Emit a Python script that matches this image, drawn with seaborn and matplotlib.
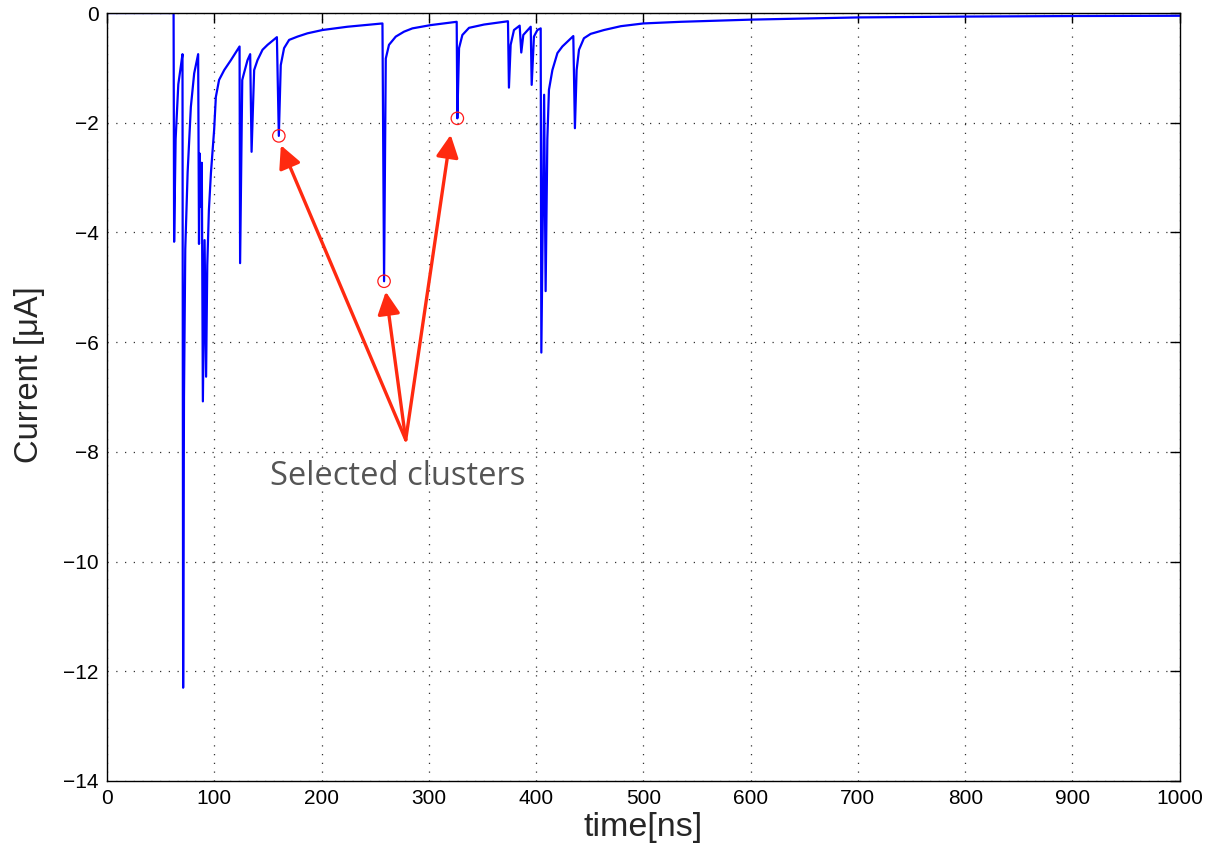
import matplotlib
matplotlib.use("Agg")
import matplotlib.pyplot as plt
import seaborn as sns
import pandas as pd

# Induced current on the sense wire (vertices of the sampled waveform)
time_ns = [
    0.0, 62.1, 62.6, 64.0, 66.5, 69.0, 70.4,
    71.0, 71.8, 73.0, 75.2, 78.2, 81.3, 85.0,
    85.8, 86.4, 87.4, 88.4, 89.4, 91.0, 92.4,
    93.5, 95.0, 96.9, 99.9, 101.5, 104.5, 109.3, 115.5, 123.6,
    124.1, 126.1, 127.7, 131.0, 133.5,
    134.8, 137.2, 140.3, 145.0, 149.7, 158.4,
    160.2, 162.0, 165.1, 169.8, 177.6, 186.9, 200.9, 224.2, 256.8,
    258.3, 259.9, 262.9, 269.2, 276.9, 284.7, 301.8, 326.0,
    326.6, 328.2, 331.3, 337.5, 351.5, 373.8,
    374.7, 376.3, 379.4, 384.7,
    386.2, 388.1, 395.0,
    395.9, 398.0, 401.2, 404.3,
    404.9, 407.5, 408.9, 410.5, 412.0, 415.2, 419.9, 424.5, 434.7,
    436.2, 437.8, 440.0, 444.6, 450.9, 463.3, 479.0, 500.0, 535.0,
    601.0, 701.0, 800.0, 900.0, 1000.0,
]
current_uA = [
    0.0, 0.0, -4.17, -2.3, -1.3, -0.95, -0.75,
    -12.3, -7.0, -4.3, -2.9, -1.71, -1.1, -0.75,
    -4.21, -2.56, -3.53, -2.73, -7.08, -4.14, -6.63,
    -4.6, -3.6, -2.92, -2.13, -1.53, -1.22, -1.04, -0.86, -0.61,
    -4.56, -1.22, -1.10, -0.86, -0.75,
    -2.53, -1.04, -0.86, -0.67, -0.58, -0.44,
    -2.24, -0.95, -0.64, -0.49, -0.43, -0.37, -0.31, -0.25, -0.19,
    -4.89, -0.83, -0.58, -0.43, -0.34, -0.28, -0.22, -0.16,
    -1.92, -0.64, -0.40, -0.27, -0.21, -0.15,
    -1.36, -0.58, -0.31, -0.23,
    -0.72, -0.40, -0.25,
    -1.31, -0.43, -0.31, -0.28,
    -6.19, -1.49, -5.07, -2.3, -1.4, -1.04, -0.73, -0.61, -0.42,
    -2.10, -1.04, -0.67, -0.46, -0.38, -0.31, -0.24, -0.19, -0.16,
    -0.12, -0.08, -0.065, -0.055, -0.05,
]

# Cluster peaks picked out for the annotation
selected_time = [160.2, 258.3, 326.6]
selected_current = [-2.24, -4.89, -1.92]

# Arrow tips (just below each circled peak) and common arrow origin
arrow_tip_time = [162.1, 259.9, 320.4]
arrow_tip_current = [-2.41, -5.08, -2.22]
arrow_origin = (278.5, -7.78)
label_text = "Selected clusters"
label_pos = (271.1, -8.45)

x_ticks = list(range(0, 1001, 100))
y_ticks = list(range(-14, 1, 2))

sns.set_theme(style="white")
plt.rcParams["font.family"] = ["Liberation Sans", "DejaVu Sans"]

fig = plt.figure(figsize=(12.10, 8.51), dpi=100)
ax = fig.add_axes([0.0884, 0.0823, 0.8866, 0.9024])

wave = pd.DataFrame({"time": time_ns, "current": current_uA})
sns.lineplot(data=wave, x="time", y="current", sort=False, estimator=None,
             color=(0, 0, 1), linewidth=1.6, ax=ax)

sel = pd.DataFrame({"time": selected_time, "current": selected_current})
sns.scatterplot(data=sel, x="time", y="current", marker="o", s=80,
                facecolor="none", edgecolor="#ff1a1a", linewidth=0.9,
                zorder=5, ax=ax)

for tx, ty in zip(arrow_tip_time, arrow_tip_current):
    ax.annotate("", xy=(tx, ty), xytext=arrow_origin,
                arrowprops=dict(arrowstyle="-|>", color="#ff2a10", lw=2.4,
                                mutation_scale=34, shrinkA=0, shrinkB=0),
                zorder=6)

ax.text(label_pos[0], label_pos[1], label_text, fontsize=23.5,
        color="#555555", ha="center", va="center", family="Open Sans")

ax.set_xlim(0, 1000)
ax.set_ylim(-14, 0)
ax.set_xticks(x_ticks)
ax.set_yticks(y_ticks)
ax.tick_params(which="major", direction="in", length=7, width=1.0,
               top=True, right=True, labelsize=15, colors="black", pad=6)
ax.grid(True, which="major", color="#333333", linestyle=(0, (1, 6)),
        linewidth=0.9)
for sp in ax.spines.values():
    sp.set_color("black")
    sp.set_linewidth(1.0)

ax.set_xlabel("time[ns]", fontsize=24.5, labelpad=3)
ax.set_ylabel("Current [μA]", fontsize=23.5, labelpad=10,
              family=["Liberation Sans Narrow", "Liberation Sans", "DejaVu Sans"])
ax.yaxis.set_label_coords(-0.058, 0.529)

fig.savefig("out.png", dpi=100)
